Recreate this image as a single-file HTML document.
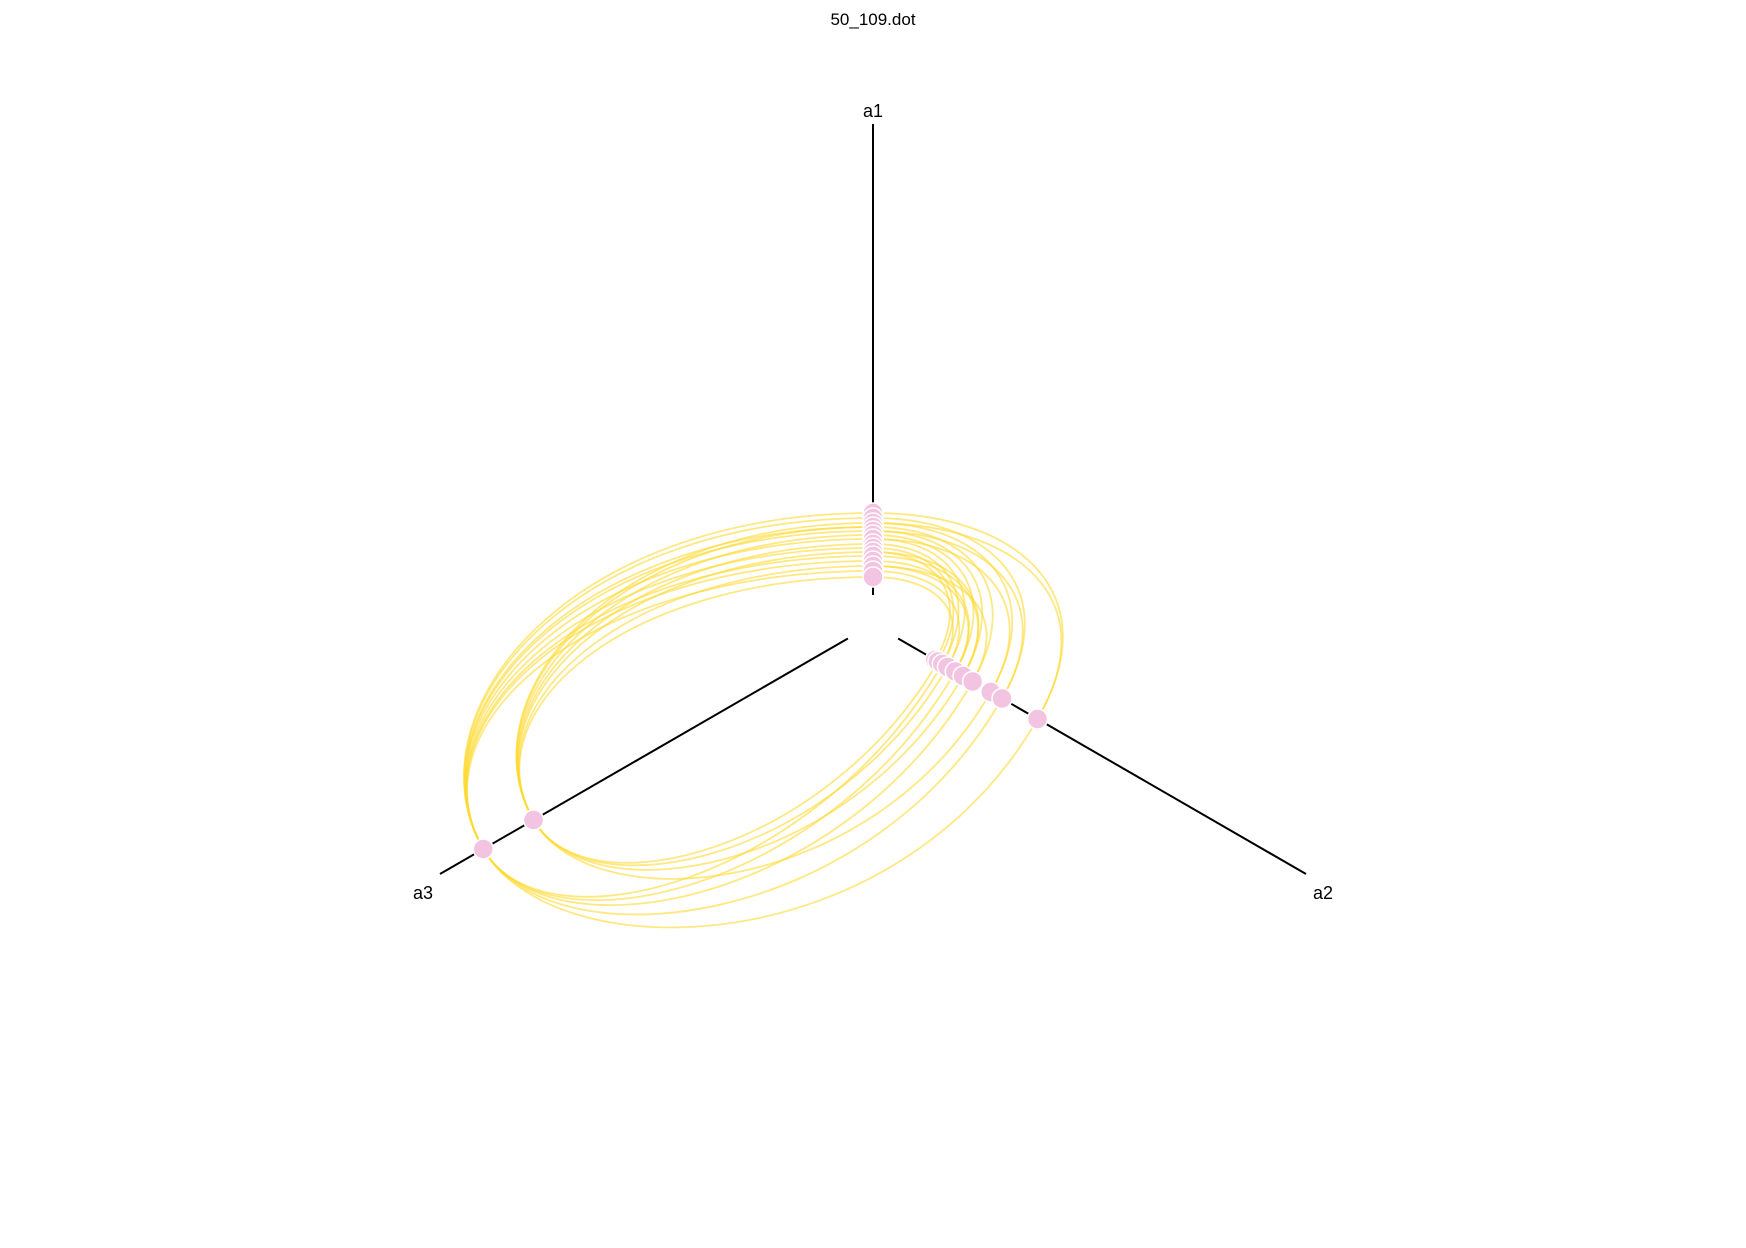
<!DOCTYPE html>
<html><head><meta charset="utf-8"><style>
html,body{margin:0;padding:0;background:#fff;}
svg{display:block;font-family:"Liberation Sans",sans-serif;}
</style></head><body>
<svg id="chart" width="1746" height="1248" viewBox="0 0 1746 1248">
<text x="873" y="25" text-anchor="middle" font-size="17">50_109.dot</text>
<g id="axes"></g>
<g id="links"></g>
<g id="nodes"></g>
</svg>
<script>
const axisNames = ["a1","a2","a3"];
const axisAngles = [-90, 30, 150];
const a1Radii = [111,106,101,97,93,89,85,80,76,72,68,63,58,53,47];
const a2Radii = [72,75,80,86,95,104,115,136,149,190];
const a3Radii = [392,450];
const linkA1A3 = [[0,1],[1,1],[2,0],[3,1],[4,1],[5,0],[6,1],[7,0],[8,1],[9,0],[10,1],[11,1],[12,0],[13,1],[14,0],[3,0]];
const linkA1A2 = [[0,9],[1,8],[2,7],[3,6],[4,5],[5,4],[6,3],[7,2],[8,1],[9,0],[10,5],[11,4],[12,6],[13,3],[14,2],[2,9],[6,7],[9,5],[12,4],[4,8]];
const linkA2A3 = [[9,1],[8,1],[7,0],[6,1],[5,0],[4,1],[3,0],[2,1],[1,0]];

const cx=873, cy=624, inner=29, outer=500;
const NS="http://www.w3.org/2000/svg";
function rad(d){return d*Math.PI/180;}
function pt(ax,r){const a=rad(axisAngles[ax]);return [cx+r*Math.cos(a),cy+r*Math.sin(a)];}
const axesG=document.getElementById('axes'), linksG=document.getElementById('links'), nodesG=document.getElementById('nodes');
axisAngles.forEach((ang,i)=>{
  const p0=pt(i,inner), p1=pt(i,outer);
  const l=document.createElementNS(NS,'line');
  l.setAttribute('x1',p0[0]);l.setAttribute('y1',p0[1]);l.setAttribute('x2',p1[0]);l.setAttribute('y2',p1[1]);
  l.setAttribute('stroke','#000');l.setAttribute('stroke-width','2');
  
  
  axesG.appendChild(l);
  const t=document.createElementNS(NS,'text');
  let tx,ty;
  if(i===0){tx=cx;ty=p1[1]-7;}else{tx=p1[0]+(i===1?17:-17);ty=p1[1]+25;}
  t.setAttribute('x',tx);t.setAttribute('y',ty);t.setAttribute('text-anchor','middle');t.setAttribute('font-size','18');
  t.textContent=axisNames[i];
  
  
  axesG.appendChild(t);
});
const radii=[a1Radii,a2Radii,a3Radii];
function perp(s,t){
  const a=rad(axisAngles[s]); const d=axisAngles[t]-axisAngles[s];
  let sgn = ((d%360)+360)%360 < 180 ? 1 : -1;
  return [-Math.sin(a)*sgn, Math.cos(a)*sgn];
}
function link(sa,sr,ta,tr,ks,kt){
  const p0=pt(sa,sr), p3=pt(ta,tr);
  const ds=perp(sa,ta), dt=perp(ta,sa);
  const ch=Math.hypot(p3[0]-p0[0],p3[1]-p0[1]);
  const c1=[p0[0]+ds[0]*ch*ks,p0[1]+ds[1]*ch*ks];
  const c2=[p3[0]+dt[0]*ch*kt,p3[1]+dt[1]*ch*kt];
  const p=document.createElementNS(NS,'path');
  p.setAttribute('d',`M${p0[0]},${p0[1]}C${c1[0]},${c1[1]} ${c2[0]},${c2[1]} ${p3[0]},${p3[1]}`);
  p.setAttribute('fill','none');p.setAttribute('stroke','#FFD92F');p.setAttribute('stroke-opacity','0.6');p.setAttribute('stroke-width','1.8');
  
  
  linksG.appendChild(p);
}
linkA1A3.forEach(e=>link(0,a1Radii[e[0]],2,a3Radii[e[1]],0.6,0.3));
linkA1A2.forEach(e=>link(0,a1Radii[e[0]],1,a2Radii[e[1]],0.55,0.55));
linkA2A3.forEach(e=>link(1,a2Radii[e[0]],2,a3Radii[e[1]],0.5,0.25));
radii.forEach((arr,ax)=>{
  arr.forEach(r=>{
    const c=pt(ax,r);
    const n=document.createElementNS(NS,'circle');
    n.setAttribute('cx',c[0]);n.setAttribute('cy',c[1]);n.setAttribute('r','10');
    n.setAttribute('fill','#F2C4E1');n.setAttribute('stroke','#fff');n.setAttribute('stroke-width','1.5');
    
    
    nodesG.appendChild(n);
  });
});
</script>
</body></html>
